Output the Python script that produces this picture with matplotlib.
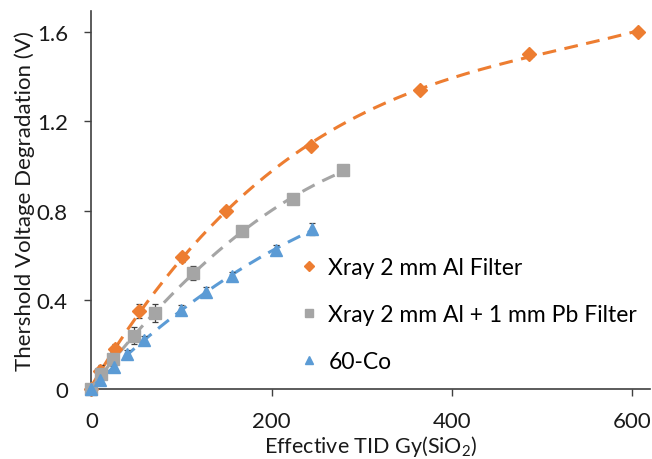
import matplotlib
matplotlib.use("Agg")
import matplotlib.pyplot as plt
import numpy as np

plt.rcParams['font.family'] = ['Lato', 'DejaVu Sans']
plt.rcParams['mathtext.fontset'] = 'custom'
plt.rcParams['mathtext.rm'] = 'Lato'

# dose (Gy SiO2) and threshold shift (V) for each source
al_x = [0, 9, 26, 53, 100, 149, 244, 365, 485, 606]
al_y = [0, 0.08, 0.18, 0.35, 0.59, 0.80, 1.09, 1.34, 1.50, 1.60]
al_err = [0.01, 0.02, 0.02, 0.03, 0.02, 0.015, 0.015, 0.015, 0.015, 0.01]

pb_x = [0, 11, 24, 47, 70, 113, 167, 224, 279]
pb_y = [0, 0.067, 0.134, 0.24, 0.34, 0.52, 0.71, 0.85, 0.98]
pb_err = [0.01, 0.04, 0.03, 0.04, 0.04, 0.03, 0.02, 0.015, 0.01]

co_x = [0, 9, 25, 39, 58, 99, 127, 156, 205, 245]
co_y = [0, 0.04, 0.10, 0.157, 0.22, 0.355, 0.436, 0.505, 0.624, 0.717]
co_err = [0.01, 0.015, 0.02, 0.02, 0.02, 0.02, 0.02, 0.02, 0.02, 0.025]

labels = ["Xray 2 mm Al Filter", "Xray 2 mm Al + 1 mm Pb Filter", "60-Co"]
colors = ["#ED7D31", "#A5A5A5", "#5B9BD5"]
markers = ["D", "s", "^"]
sizes = [7, 9, 9]
degrees = [3, 2, 2]

fig = plt.figure(figsize=(6.52, 4.6), dpi=100)
ax = fig.add_axes([0.1403, 0.152, 0.857, 0.822])

series = [(al_x, al_y, al_err), (pb_x, pb_y, pb_err), (co_x, co_y, co_err)]
handles = []
for (x, y, e), lab, c, m, s, d in zip(series, labels, colors, markers, sizes, degrees):
    # polynomial trend line through the points
    p = np.polyfit(x, y, d)
    xx = np.linspace(0, max(x), 300)
    ax.plot(xx, np.polyval(p, xx), ls=(0, (4.5, 2.8)), color=c, lw=2.2, zorder=2)
    ax.errorbar(x, y, yerr=e, fmt='none', ecolor="#404040", elinewidth=0.9,
                capsize=2.5, capthick=0.9, zorder=3, clip_on=False)
    h, = ax.plot(x, y, ls='none', marker=m, ms=s, color=c, mec=c,
                 zorder=4, clip_on=False, label=lab)
    handles.append(h)

ax.set_xlim(0, 620)
ax.set_ylim(0, 1.694)
ax.set_xticks([0, 200, 400, 600])
ax.set_yticks([0, 0.4, 0.8, 1.2, 1.6])
ax.set_yticklabels(["0", "0.4", "0.8", "1.2", "1.6"])

for side in ["top", "right"]:
    ax.spines[side].set_visible(False)
for side in ["left", "bottom"]:
    ax.spines[side].set_color("#404040")
    ax.spines[side].set_linewidth(1.2)
ax.tick_params(direction='out', length=5, width=1, color="#404040",
               labelsize=16, labelcolor="#1a1a1a")
ax.tick_params(axis='y', pad=12)
ax.tick_params(axis='x', pad=11)

ax.set_xlabel("Effective TID Gy(SiO$_2$)", fontsize=15.5, color="#1a1a1a")
ax.xaxis.set_label_coords(0.5, -0.117)
ax.set_ylabel("Thershold Voltage Degradation (V)", fontsize=16, color="#1a1a1a", labelpad=1)

leg = ax.legend(handles=handles, loc='lower left', bbox_to_anchor=(0.34, -0.01),
                frameon=False, fontsize=16.5, handlelength=0.6, handletextpad=0.55,
                labelspacing=1.15, markerscale=0.7)

fig.savefig("out.png", dpi=100)
